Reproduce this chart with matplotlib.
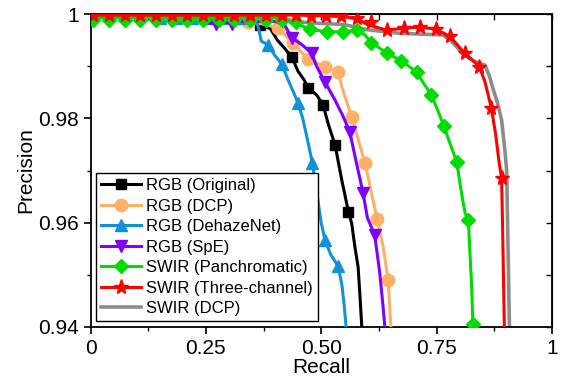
import matplotlib
matplotlib.use("Agg")
import matplotlib.pyplot as plt
from matplotlib.lines import Line2D

plt.rcParams['font.family'] = ['Liberation Sans', 'DejaVu Sans']

# ---- data (recall, precision) ----
labels = ["RGB (Original)", "RGB (DCP)", "RGB (DehazeNet)", "RGB (SpE)",
          "SWIR (Panchromatic)", "SWIR (Three-channel)", "SWIR (DCP)"]

# RGB (Original)
orig_r = [0.0, 0.33, 0.345, 0.367, 0.39, 0.405, 0.42, 0.436, 0.45, 0.462, 0.472,
          0.49, 0.504, 0.515, 0.53, 0.545, 0.559, 0.566, 0.573, 0.580, 0.584, 0.588]
orig_p = [0.9998, 0.9998, 0.9985, 0.9979, 0.9972, 0.995, 0.9935, 0.9918, 0.989, 0.9875, 0.9859,
          0.9845, 0.9826, 0.979, 0.9749, 0.968, 0.9621, 0.9599, 0.9554, 0.9515, 0.946, 0.94]
orig_mr = [0.367, 0.436, 0.472, 0.504, 0.530, 0.559]
orig_mp = [0.9979, 0.9918, 0.9859, 0.9826, 0.9749, 0.9621]

# RGB (DCP)
dcp_r = [0.0, 0.32, 0.342, 0.38, 0.407, 0.439, 0.472, 0.508, 0.537, 0.545, 0.566,
         0.595, 0.621, 0.635, 0.645, 0.651]
dcp_p = [0.9997, 0.9995, 0.9985, 0.998, 0.9973, 0.9944, 0.9913, 0.9899, 0.9889, 0.986, 0.9803,
         0.9714, 0.9608, 0.955, 0.949, 0.94]
dcp_mr = [0.342, 0.407, 0.439, 0.472, 0.508, 0.537, 0.566, 0.595, 0.621, 0.645]
dcp_mp = [0.9985, 0.9973, 0.9944, 0.9913, 0.9899, 0.9889, 0.9803, 0.9714, 0.9608, 0.949]

# RGB (DehazeNet)
dhn_r = [0.0, 0.35, 0.36, 0.365, 0.37, 0.385, 0.40, 0.414, 0.43, 0.44, 0.45, 0.46, 0.47,
         0.481, 0.49, 0.50, 0.508, 0.52, 0.537, 0.545, 0.55, 0.554]
dhn_p = [0.9997, 0.9995, 0.9985, 0.997, 0.9948, 0.9941, 0.992, 0.9905, 0.987, 0.985, 0.9829, 0.980, 0.976,
         0.9714, 0.966, 0.960, 0.9567, 0.954, 0.9516, 0.948, 0.944, 0.94]
dhn_mr = [0.15, 0.185, 0.22, 0.255, 0.29, 0.325, 0.385, 0.414, 0.450, 0.481, 0.508, 0.537]
dhn_mp = [0.9993, 0.9993, 0.9993, 0.9993, 0.9993, 0.9993, 0.9941, 0.9905, 0.9829, 0.9714, 0.9567, 0.9516]

# RGB (SpE)
spe_r = [0.0, 0.24, 0.255, 0.273, 0.29, 0.306, 0.32, 0.40, 0.42, 0.436, 0.46, 0.479, 0.49,
         0.508, 0.53, 0.548, 0.562, 0.575, 0.591, 0.60, 0.616, 0.627, 0.634, 0.638]
spe_p = [0.9997, 0.9996, 0.9983, 0.9982, 0.9985, 0.9982, 0.9986, 0.9986, 0.998, 0.9955, 0.994, 0.9925, 0.990,
         0.987, 0.9835, 0.9803, 0.9774, 0.972, 0.9656, 0.961, 0.9576, 0.9503, 0.944, 0.94]
spe_mr = [0.273, 0.306, 0.436, 0.479, 0.508, 0.562, 0.591, 0.616]
spe_mp = [0.9981, 0.9981, 0.9955, 0.9925, 0.987, 0.9774, 0.9656, 0.9576]

# SWIR (Panchromatic)
pan_r = [0.0, 0.40, 0.45, 0.476, 0.512, 0.548, 0.577, 0.595, 0.609, 0.643, 0.674, 0.707, 0.72,
         0.739, 0.755, 0.766, 0.78, 0.794, 0.80, 0.806, 0.812, 0.819, 0.822, 0.826, 0.829]
pan_p = [0.9993, 0.9993, 0.998, 0.9971, 0.9966, 0.9966, 0.9969, 0.996, 0.9945, 0.9925, 0.991, 0.9889, 0.987,
         0.9845, 0.981, 0.9785, 0.975, 0.9716, 0.968, 0.9647, 0.9618, 0.9606, 0.955, 0.948, 0.94]
pan_mr = [0.006, 0.040, 0.074, 0.108, 0.142, 0.176, 0.210, 0.244, 0.278, 0.312, 0.346, 0.380, 0.414,
          0.446, 0.476, 0.512, 0.548, 0.577, 0.609, 0.643, 0.674, 0.707, 0.739, 0.766, 0.794, 0.819, 0.829]
pan_mp = [0.9989, 0.9989, 0.9989, 0.9989, 0.9989, 0.9989, 0.9989, 0.9989, 0.9989, 0.9989, 0.9989, 0.9989, 0.9989,
          0.9985, 0.9971, 0.9966, 0.9966, 0.9969, 0.9945, 0.9925, 0.991, 0.9889, 0.9845, 0.9785, 0.9716, 0.9606, 0.9405]

# SWIR (Three-channel)
thr_r = [0.0, 0.45, 0.55, 0.58, 0.60, 0.642, 0.679, 0.714, 0.749, 0.779, 0.811, 0.843, 0.855,
         0.869, 0.878, 0.885, 0.891, 0.893, 0.895, 0.897]
thr_p = [0.9998, 0.9998, 0.9995, 0.999, 0.998, 0.9969, 0.9973, 0.9975, 0.9971, 0.9957, 0.9925, 0.9899, 0.987,
         0.9819, 0.977, 0.972, 0.9685, 0.96, 0.95, 0.94]
thr_mr = [0.006, 0.040, 0.074, 0.108, 0.142, 0.176, 0.210, 0.244, 0.278, 0.312, 0.346, 0.380, 0.414,
          0.446, 0.477, 0.510, 0.544, 0.577, 0.609, 0.642, 0.679, 0.714, 0.749, 0.779, 0.811, 0.843, 0.869, 0.891]
thr_mp = [0.9998, 0.9998, 0.9998, 0.9998, 0.9998, 0.9998, 0.9998, 0.9998, 0.9998, 0.9998, 0.9998, 0.9998, 0.9998,
          0.9998, 0.9997, 0.9997, 0.9996, 0.9993, 0.9984, 0.9969, 0.9973, 0.9975, 0.9971, 0.9957, 0.9925, 0.9899, 0.9819, 0.9685]

# SWIR (DCP)
sdcp_r = [0.0, 0.40, 0.45, 0.50, 0.55, 0.60, 0.671, 0.764, 0.78, 0.80, 0.83, 0.855, 0.865,
          0.872, 0.882, 0.891, 0.898, 0.902, 0.904, 0.906, 0.908]
sdcp_p = [0.9997, 0.9995, 0.9985, 0.9982, 0.998, 0.997, 0.9963, 0.996, 0.995, 0.9931, 0.991, 0.9902, 0.988,
          0.9858, 0.983, 0.9797, 0.974, 0.970, 0.96, 0.95, 0.94]

colors = ["#000000", "#FFB066", "#1192D8", "#8000FF", "#00DC00", "#FF0000", "#8C8C8C"]
markers = ["s", "o", "^", "v", "D", "*", None]
msizes = [7.5, 9, 8, 8, 7, 11, 0]

fig = plt.figure(figsize=(5.64, 3.8), dpi=100)
ax = fig.add_axes([0.1605, 0.1395, 0.818, 0.8235])

curves = [(orig_r, orig_p, orig_mr, orig_mp), (dcp_r, dcp_p, dcp_mr, dcp_mp),
          (dhn_r, dhn_p, dhn_mr, dhn_mp), (spe_r, spe_p, spe_mr, spe_mp),
          (pan_r, pan_p, pan_mr, pan_mp), (thr_r, thr_p, thr_mr, thr_mp)]

# grey line first so everything sits on top of it
ax.plot(sdcp_r, sdcp_p, color=colors[6], lw=2.6, zorder=2)
for i, (r, p, mr, mp) in enumerate(curves):
    ax.plot(r, p, color=colors[i], lw=2.2, zorder=3 + i)
    ax.plot(mr, mp, ls="none", marker=markers[i], ms=msizes[i], color=colors[i],
            mec=colors[i], zorder=3 + i)

ax.set_xlim(0, 1)
ax.set_ylim(0.94, 1.0)
ax.set_xticks([0, 0.25, 0.5, 0.75, 1], ["0", "0.25", "0.50", "0.75", "1"])
ax.set_yticks([0.94, 0.96, 0.98, 1.0], ["0.94", "0.96", "0.98", "1"])
ax.set_xticks([0.125, 0.375, 0.625, 0.875], minor=True)
ax.set_yticks([0.95, 0.97, 0.99], minor=True)
ax.tick_params(which="major", direction="out", length=5, width=1.2, labelsize=15)
ax.tick_params(which="minor", direction="out", length=3, width=1.0)
for s in ax.spines.values():
    s.set_linewidth(1.3)

# inward ticks on the top and right edges
top = ax.secondary_xaxis("top")
top.set_xticks([0, 0.125, 0.25, 0.375, 0.5, 0.625, 0.75, 0.875, 1])
top.tick_params(which="both", direction="in", length=4, width=1.0, labeltop=False)
right = ax.secondary_yaxis("right")
right.set_yticks([0.94, 0.95, 0.96, 0.97, 0.98, 0.99, 1.0])
right.tick_params(which="both", direction="in", length=4, width=1.0, labelright=False)

ax.set_xlabel("Recall", fontsize=15, labelpad=0)
ax.set_ylabel("Precision", fontsize=15, labelpad=2)

handles = []
for i in range(7):
    handles.append(Line2D([], [], color=colors[i], lw=2.6 if i == 6 else 2.2,
                          marker=markers[i], ms=msizes[i] if markers[i] else 0))
leg = ax.legend(handles, labels, loc="lower left", fontsize=12, frameon=True,
                fancybox=False, framealpha=1, edgecolor="black",
                handlelength=2.4, handletextpad=0.3, labelspacing=0.33,
                borderpad=0.3, borderaxespad=0.35)
leg.get_frame().set_linewidth(1.0)
leg.set_zorder(20)

fig.savefig("out.png", dpi=100)
